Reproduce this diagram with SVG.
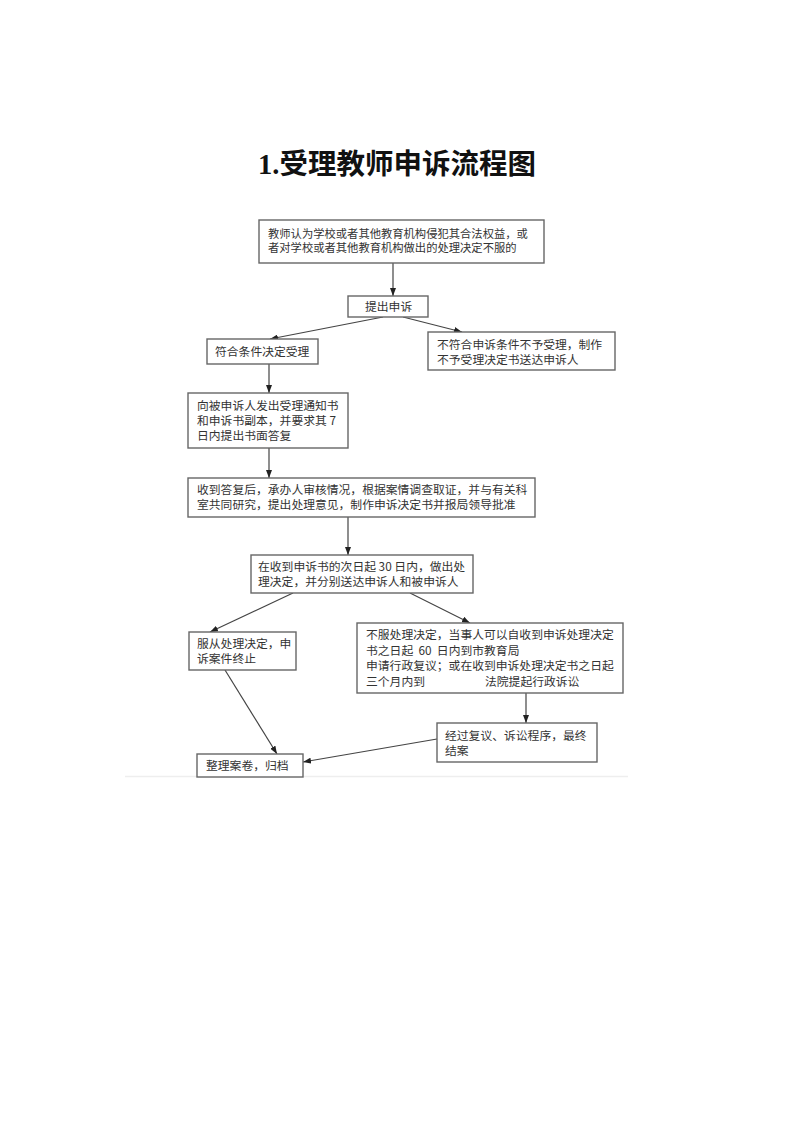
<svg xmlns="http://www.w3.org/2000/svg" width="793" height="1122" viewBox="0 0 793 1122">
<style>
.box{fill:#fff;stroke:#666;stroke-width:1.4}
.t{font-family:"Noto Sans CJK SC","Liberation Serif",serif;font-size:11.8px;fill:#333}
.s{font-size:11.3px}
.title{font-family:"Liberation Serif","Noto Sans CJK SC",serif;font-size:28.5px;font-weight:bold;fill:#111}
.c{stroke:#444;stroke-width:1.2;fill:none;marker-end:url(#ah)}
</style>
<defs>
<marker id="ah" markerUnits="userSpaceOnUse" markerWidth="8" markerHeight="6" refX="8" refY="3" orient="auto">
<path d="M0,0 L8,3 L0,6 z" fill="#222"/>
</marker>
</defs>
<rect width="793" height="1122" fill="#fff"/>
<text class="title" x="397" y="174" text-anchor="middle">1.受理教师申诉流程图</text>
<line x1="125" y1="776.5" x2="628" y2="776.5" stroke="#eee" stroke-width="1.5"/>
<g id="connectors">
<line class="c" x1="393" y1="263" x2="393" y2="296"/>
<line class="c" x1="383" y1="317" x2="270" y2="339"/>
<line class="c" x1="403" y1="317" x2="462" y2="332"/>
<line class="c" x1="269" y1="364" x2="269" y2="393"/>
<line class="c" x1="269" y1="448" x2="269" y2="478"/>
<line class="c" x1="348" y1="517" x2="348" y2="555"/>
<line class="c" x1="293" y1="593" x2="210" y2="632"/>
<line class="c" x1="410" y1="593" x2="470" y2="623"/>
<line class="c" x1="526" y1="693" x2="526" y2="723"/>
<line class="c" x1="225" y1="670" x2="277" y2="754"/>
<line class="c" x1="437" y1="739" x2="303" y2="762"/>
</g>
<g id="n1"><rect class="box" x="259" y="220" width="285" height="43"/>
<text class="t s" x="268" y="238">教师认为学校或者其他教育机构侵犯其合法权益，或</text>
<text class="t s" x="268" y="252">者对学校或者其他教育机构做出的处理决定不服的</text></g>
<g id="n2"><rect class="box" x="348" y="296" width="80" height="21"/>
<text class="t" x="365" y="311">提出申诉</text></g>
<g id="n3"><rect class="box" x="207" y="339" width="111" height="25"/>
<text class="t" x="215" y="356">符合条件决定受理</text></g>
<g id="n4"><rect class="box" x="428" y="332" width="187" height="38"/>
<text class="t" x="437" y="349">不符合申诉条件不予受理，制作</text>
<text class="t" x="437" y="364">不予受理决定书送达申诉人</text></g>
<g id="n5"><rect class="box" x="188" y="393" width="160" height="55"/>
<text class="t" x="197" y="410">向被申诉人发出受理通知书</text>
<text class="t" x="197" y="425">和申诉书副本，并要求其 7</text>
<text class="t" x="197" y="440">日内提出书面答复</text></g>
<g id="n6"><rect class="box" x="188" y="478" width="347" height="39"/>
<text class="t" x="197" y="494">收到答复后，承办人审核情况，根据案情调查取证，并与有关科</text>
<text class="t" x="197" y="509">室共同研究，提出处理意见，制作申诉决定书并报局领导批准</text></g>
<g id="n7"><rect class="box" x="251" y="555" width="222" height="38"/>
<text class="t" x="258" y="571">在收到申诉书的次日起 30 日内，做出处</text>
<text class="t" x="258" y="586">理决定，并分别送达申诉人和被申诉人</text></g>
<g id="n8"><rect class="box" x="189" y="632" width="107" height="38"/>
<text class="t" x="197" y="648">服从处理决定，申</text>
<text class="t" x="197" y="663">诉案件终止</text></g>
<g id="n9"><rect class="box" x="357" y="623" width="266" height="70"/>
<text class="t" x="366" y="639">不服处理决定，当事人可以自收到申诉处理决定</text>
<text class="t" x="366" y="655">书之日起&#160; 60&#160; 日内到市教育局</text>
<text class="t" x="366" y="670">申请行政复议；或在收到申诉处理决定书之日起</text>
<text class="t" x="366" y="686">三个月内到</text>
<text class="t" x="485" y="686">法院提起行政诉讼</text></g>
<g id="n10"><rect class="box" x="437" y="723" width="160" height="39"/>
<text class="t" x="445" y="740">经过复议、诉讼程序，最终</text>
<text class="t" x="445" y="755">结案</text></g>
<g id="n11"><rect class="box" x="197" y="754" width="106" height="23"/>
<text class="t" x="206" y="770">整理案卷，归档</text></g>
</svg>
